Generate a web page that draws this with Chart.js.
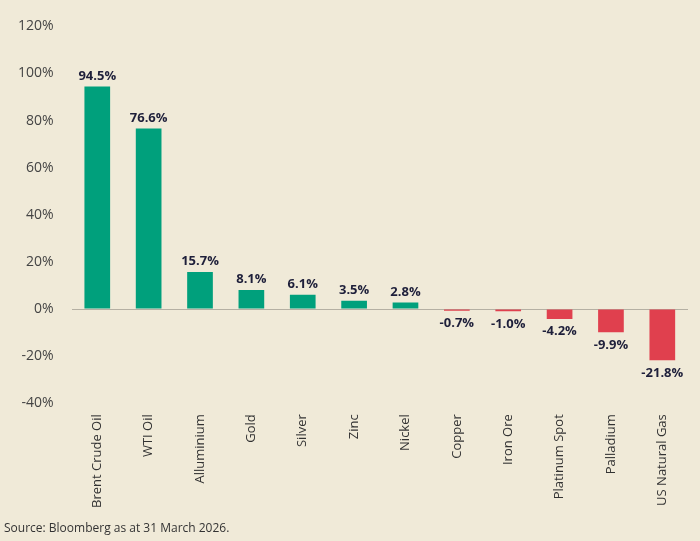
<!DOCTYPE html>
<html>
<head>
<meta charset="utf-8">
<script src="https://cdn.jsdelivr.net/npm/chart.js@4"></script>
<style>
  body { margin: 0; background: #f0ead8; }
  #wrap { position: relative; width: 700px; height: 541px; }
  #source { position: absolute; left: 4px; top: 519px; font: 12px "Open Sans", sans-serif; color: #333; }
</style>
</head>
<body>
<div id="wrap">
  <canvas id="chart" width="700" height="541"></canvas>
  <div id="source">Source: Bloomberg as at 31 March 2026.</div>
</div>
<script>
// Categories and returns (%)
const categories = ["Brent Crude Oil", "WTI Oil", "Alluminium", "Gold", "Silver", "Zinc", "Nickel",
  "Copper", "Iron Ore", "Platinum Spot", "Palladium", "US Natural Gas"];
const returns = [94.5, 76.6, 15.7, 8.1, 6.1, 3.5, 2.8, -0.7, -1.0, -4.2, -9.9, -21.8];
const yTicks = [-40, -20, 0, 20, 40, 60, 80, 100, 120];

const green = "#00a07c";
const red = "#e0404e";

// Draw the value labels above / below each bar
const valueLabels = {
  id: "valueLabels",
  afterDatasetsDraw(chart) {
    const ctx = chart.ctx;
    const meta = chart.getDatasetMeta(0);
    ctx.save();
    ctx.font = "bold 13px 'Open Sans', sans-serif";
    ctx.fillStyle = "#1e1f3a";
    ctx.textAlign = "center";
    meta.data.forEach((bar, i) => {
      const v = returns[i];
      const text = v.toFixed(1) + "%";
      if (v >= 0) {
        ctx.textBaseline = "bottom";
        ctx.fillText(text, bar.x, bar.y - 4);
      } else {
        ctx.textBaseline = "top";
        ctx.fillText(text, bar.x, bar.y + 6);
      }
    });
    ctx.restore();
  }
};

new Chart(document.getElementById("chart"), {
  type: "bar",
  data: {
    labels: categories,
    datasets: [{
      data: returns,
      backgroundColor: returns.map(v => v >= 0 ? green : red),
      barPercentage: 0.5,
      categoryPercentage: 1.0
    }]
  },
  options: {
    responsive: false,
    animation: false,
    layout: { padding: { top: 14, right: 12, left: 0, bottom: 30 } },
    plugins: { legend: { display: false }, tooltip: { enabled: false } },
    scales: {
      x: {
        grid: { display: false },
        border: { display: false },
        ticks: {
          minRotation: 90, maxRotation: 90,
          color: "#333",
          font: { size: 13, family: "'Open Sans', sans-serif" }
        }
      },
      y: {
        min: yTicks[0],
        max: yTicks[yTicks.length - 1],
        afterBuildTicks(axis) { axis.ticks = yTicks.map(v => ({ value: v })); },
        border: { display: false },
        grid: {
          drawTicks: false,
          color: ctx => ctx.tick && ctx.tick.value === 0 ? "#b5b0a3" : "transparent"
        },
        ticks: {
          padding: 18,
          color: "#444",
          font: { size: 14, family: "'Open Sans', sans-serif" },
          callback: v => v + "%"
        }
      }
    }
  },
  plugins: [valueLabels]
});
</script>
</body>
</html>
